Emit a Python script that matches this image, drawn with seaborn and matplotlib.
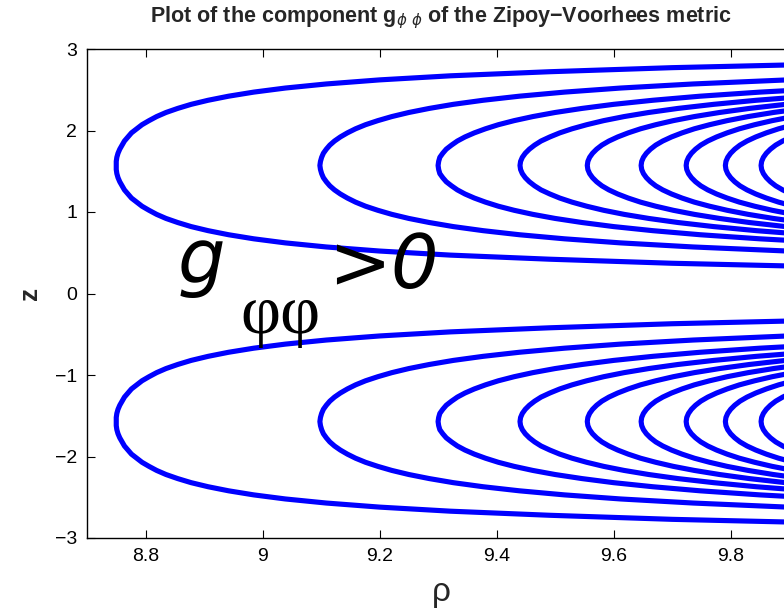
import matplotlib
matplotlib.use("Agg")
import matplotlib.pyplot as plt
import pandas as pd
import seaborn as sns

# Offsets |z - z_centre| (step 0.05) at which each level curve is sampled
offsets = [0.00, 0.05, 0.10, 0.15, 0.20, 0.25, 0.30, 0.35, 0.40, 0.45, 0.50,
           0.55, 0.60, 0.65, 0.70, 0.75, 0.80, 0.85, 0.90, 0.95, 1.00,
           1.05, 1.10, 1.15, 1.20, 1.25, 1.30]
z_centre = 1.571

# rho of each level curve of g_phiphi at the offsets above (upper family,
# the lower family is its mirror image in z = 0)
level_rho = [
    [8.750, 8.750, 8.751, 8.753, 8.756, 8.760, 8.764, 8.770, 8.776, 8.785, 8.794,
     8.806, 8.819, 8.835, 8.855, 8.878, 8.907, 8.942, 8.985, 9.039, 9.109,
     9.200, 9.321, 9.490, 9.700, 10.000],
    [9.098, 9.099, 9.101, 9.104, 9.109, 9.115, 9.123, 9.133, 9.145, 9.159, 9.176,
     9.197, 9.221, 9.250, 9.285, 9.326, 9.377, 9.439, 9.516, 9.612, 9.736,
     9.897, 10.113],
    [9.300, 9.301, 9.303, 9.308, 9.314, 9.323, 9.333, 9.346, 9.362, 9.381, 9.403,
     9.430, 9.462, 9.500, 9.546, 9.600, 9.667, 9.748, 9.850, 9.977, 10.139],
    [9.440, 9.441, 9.444, 9.449, 9.456, 9.465, 9.476, 9.491, 9.508, 9.529, 9.554,
     9.583, 9.618, 9.660, 9.710, 9.771, 9.844, 9.934, 10.045],
    [9.555, 9.556, 9.559, 9.564, 9.571, 9.580, 9.592, 9.607, 9.625, 9.646, 9.672,
     9.702, 9.738, 9.781, 9.832, 9.894, 9.969],
    [9.647, 9.648, 9.651, 9.656, 9.663, 9.672, 9.684, 9.699, 9.717, 9.738, 9.764,
     9.794, 9.830, 9.873, 9.924],
    [9.724, 9.725, 9.728, 9.733, 9.740, 9.749, 9.761, 9.776, 9.794, 9.815, 9.841,
     9.871, 9.907],
    [9.791, 9.792, 9.795, 9.800, 9.807, 9.816, 9.828, 9.843, 9.861, 9.882, 9.908],
    [9.852, 9.853, 9.856, 9.861, 9.868, 9.877, 9.889, 9.904, 9.922],
]

x_ticks = [8.8, 9.0, 9.2, 9.4, 9.6, 9.8]
x_tick_labels = ["8.8", "9", "9.2", "9.4", "9.6", "9.8"]
y_ticks = [-3, -2, -1, 0, 1, 2, 3]
y_tick_labels = ["\u22123", "\u22122", "\u22121", "0", "1", "2", "3"]

# Long-form table: every C-shaped contour as an ordered path
rows = []
uid = 0
for sign in (1, -1):
    for rhos in level_rho:
        n = len(rhos)
        path = [(rhos[i], z_centre + offsets[i]) for i in range(n - 1, -1, -1)]
        path += [(rhos[i], z_centre - offsets[i]) for i in range(1, n)]
        for order, (r, z) in enumerate(path):
            rows.append({"rho": r, "z": sign * z, "curve": uid, "order": order})
        uid += 1
df = pd.DataFrame(rows)

sns.set_theme(style="ticks", rc={"xtick.direction": "in", "ytick.direction": "in"})
plt.rcParams["font.family"] = ["Liberation Sans", "DejaVu Sans"]

W, H = 784, 610
fig = plt.figure(figsize=(W / 100, H / 100), dpi=100)
ax = fig.add_axes([87 / W, 72 / H, 708 / W, 489 / H])

sns.lineplot(data=df, x="rho", y="z", units="curve", estimator=None, sort=False,
             color="#0000ff", linewidth=3.7, ax=ax, legend=False)

ax.set_xlim(8.7, 9.91)
ax.set_ylim(-3, 3)
ax.set_xticks(x_ticks)
ax.set_xticklabels(x_tick_labels)
ax.set_yticks(y_ticks)
ax.set_yticklabels(y_tick_labels)
ax.tick_params(axis="both", direction="in", length=6, width=0.8, color="black",
               labelsize=14, labelcolor="black", top=True, right=True, pad=7)
for sp in ax.spines.values():
    sp.set_color("black")
    sp.set_linewidth(1.0)
ax.set_xlabel("")
ax.set_ylabel("")

# Region annotation
ax.text(8.855, 0.125, "g", fontsize=54, style="italic", family="DejaVu Sans",
        ha="left", va="baseline", color="black")
ax.text(8.962, -0.28, "\u03c6\u03c6", fontsize=50, family="Liberation Serif",
        ha="left", va="center", color="black")
ax.text(9.112, 0.067, ">0", fontsize=54, style="italic", family="DejaVu Sans",
        ha="left", va="baseline", color="black")

fig.text(441 / W, 1 - 18 / H,
         "Plot of the component g$_{\\phi\\ \\phi}$ of the Zipoy\u2212Voorhees metric",
         ha="center", va="center", fontsize=15.5, fontweight="bold")
fig.text(441 / W, 1 - 592 / H, "\u03c1", ha="center", va="center", fontsize=24)
fig.text(30 / W, 1 - 293.5 / H, "z", ha="center", va="center", rotation=90,
         fontsize=19, fontweight="bold")

fig.savefig("out.png", dpi=100, facecolor="white")
